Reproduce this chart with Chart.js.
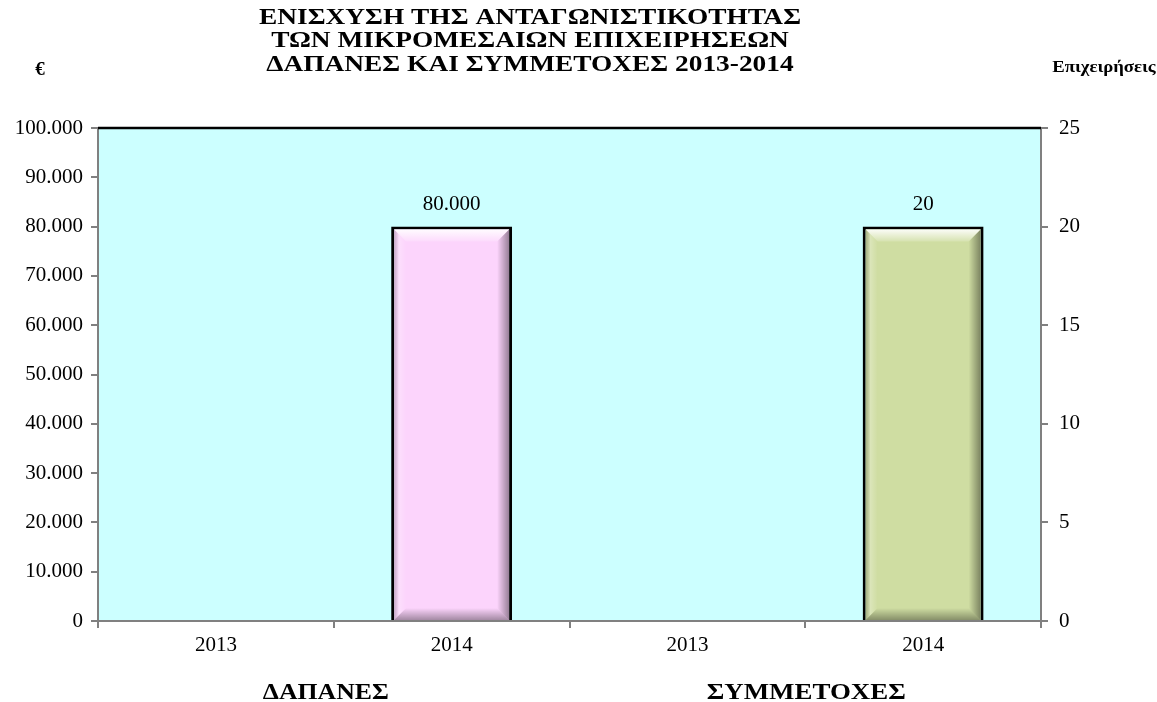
<!DOCTYPE html>
<html><head><meta charset="utf-8">
<script src="https://cdn.jsdelivr.net/npm/chart.js@4/dist/chart.umd.min.js"></script>
<style>html,body{margin:0;padding:0;background:#fff;}#wrap{width:1157px;height:702px;}</style>
</head><body><div id="wrap"><canvas id="c" width="1157" height="702"></canvas></div>
<script>
const categories = ['2013', '2014', '2013', '2014'];
const groups = ['ΔΑΠΑΝΕΣ', 'ΣΥΜΜΕΤΟΧΕΣ'];
const expenses = [null, 80000, null, null];
const participants = [null, null, null, 20];
const titleLines = ['ΕΝΙΣΧΥΣΗ ΤΗΣ ΑΝΤΑΓΩΝΙΣΤΙΚΟΤΗΤΑΣ', 'ΤΩΝ ΜΙΚΡΟΜΕΣΑΙΩΝ ΕΠΙΧΕΙΡΗΣΕΩΝ', 'ΔΑΠΑΝΕΣ ΚΑΙ ΣΥΜΜΕΤΟΧΕΣ 2013-2014'];
const leftUnit = '€';
const rightUnit = 'Επιχειρήσεις';

const SERIF = '"Liberation Serif", "DejaVu Serif", serif';
const fmt = v => Number(v).toLocaleString('de-DE');

function stretchText(ctx, s, x, y, sx) {
  ctx.save();
  ctx.translate(x, y);
  ctx.scale(sx, 1);
  ctx.fillText(s, 0, 0);
  ctx.restore();
}

const framePlugin = {
  id: 'frame',
  beforeDatasetsDraw(chart) {
    const {ctx, chartArea: a} = chart;
    ctx.save();
    ctx.fillStyle = '#CCFFFF';
    ctx.fillRect(a.left, a.top, a.right - a.left, a.bottom - a.top);
    ctx.restore();
  },
  afterDatasetsDraw(chart) {
    const {ctx, chartArea: a} = chart;
    chart.data.datasets.forEach((ds, di) => {
      chart.getDatasetMeta(di).data.forEach((bar, i) => {
        if (ds.data[i] == null) return;
        const p = bar.getProps(['x', 'y', 'base', 'width'], true);
        const bw = 3;
        const l = p.x - p.width / 2 + bw, r = p.x + p.width / 2 - bw;
        const t = p.y + bw, b = p.base;
        const d = 12;
        ctx.save();
        let g = ctx.createLinearGradient(0, t, 0, t + d);
        g.addColorStop(0, 'rgba(255,255,255,0.9)');
        g.addColorStop(1, 'rgba(255,255,255,0.15)');
        ctx.fillStyle = g;
        ctx.beginPath(); ctx.moveTo(l, t); ctx.lineTo(r, t); ctx.lineTo(r - d, t + d); ctx.lineTo(l + d, t + d); ctx.closePath(); ctx.fill();
        g = ctx.createLinearGradient(l, 0, l + d, 0);
        g.addColorStop(0, 'rgba(0,0,0,0.2)');
        g.addColorStop(0.4, 'rgba(255,255,255,0.25)');
        g.addColorStop(1, 'rgba(255,255,255,0.0)');
        ctx.fillStyle = g;
        ctx.beginPath(); ctx.moveTo(l, t); ctx.lineTo(l + d, t + d); ctx.lineTo(l + d, b - d); ctx.lineTo(l, b); ctx.closePath(); ctx.fill();
        g = ctx.createLinearGradient(r - d, 0, r, 0);
        g.addColorStop(0, 'rgba(0,0,0,0.0)');
        g.addColorStop(1, 'rgba(0,0,0,0.4)');
        ctx.fillStyle = g;
        ctx.beginPath(); ctx.moveTo(r, t); ctx.lineTo(r, b); ctx.lineTo(r - d, b - d); ctx.lineTo(r - d, t + d); ctx.closePath(); ctx.fill();
        g = ctx.createLinearGradient(0, b - d, 0, b);
        g.addColorStop(0, 'rgba(0,0,0,0.0)');
        g.addColorStop(1, 'rgba(0,0,0,0.35)');
        ctx.fillStyle = g;
        ctx.beginPath(); ctx.moveTo(l, b); ctx.lineTo(r, b); ctx.lineTo(r - d, b - d); ctx.lineTo(l + d, b - d); ctx.closePath(); ctx.fill();
        ctx.restore();
        ctx.save();
        ctx.fillStyle = '#000';
        ctx.font = '21px ' + SERIF;
        ctx.textAlign = 'center';
        ctx.textBaseline = 'middle';
        ctx.fillText(fmt(ds.data[i]), p.x, p.y - 22);
        ctx.restore();
      });
    });
    ctx.save();
    ctx.strokeStyle = '#808080';
    ctx.lineWidth = 2;
    ctx.beginPath();
    ctx.moveTo(a.left, a.top); ctx.lineTo(a.left, a.bottom); ctx.lineTo(a.right, a.bottom); ctx.lineTo(a.right, a.top);
    ctx.stroke();
    ctx.strokeStyle = '#000';
    ctx.lineWidth = 2.5;
    ctx.beginPath(); ctx.moveTo(a.left, a.top); ctx.lineTo(a.right, a.top); ctx.stroke();
    ctx.restore();
  },
  afterDraw(chart) {
    const {ctx, scales} = chart;
    ctx.save();
    ctx.fillStyle = '#000';
    ctx.textAlign = 'center';
    ctx.textBaseline = 'middle';
    ctx.font = 'bold 23px ' + SERIF;
    titleLines.forEach((s, i) => stretchText(ctx, s, 530, 18 + i * 23.5, 1.19));
    ctx.font = 'bold 19px ' + SERIF;
    ctx.fillText(leftUnit, 40, 70);
    ctx.font = 'bold 17px ' + SERIF;
    stretchText(ctx, rightUnit, 1104, 68, 1.1);
    ctx.font = 'bold 23px ' + SERIF;
    const x = scales.x;
    const shift = [-8, 1];
    groups.forEach((g, gi) => {
      const c = (x.getPixelForValue(gi * 2) + x.getPixelForValue(gi * 2 + 1)) / 2;
      stretchText(ctx, g, c + shift[gi], 693, gi === 0 ? 1.12 : 1.17);
    });
    ctx.restore();
  }
};

new Chart(document.getElementById('c'), {
  type: 'bar',
  data: {
    labels: categories,
    datasets: [
      { label: 'Δαπάνες', data: expenses, yAxisID: 'y', backgroundColor: '#FCD4FC', borderColor: '#000', borderWidth: 3, borderSkipped: 'bottom' },
      { label: 'Συμμετοχές', data: participants, yAxisID: 'y1', backgroundColor: '#CFDDA2', borderColor: '#000', borderWidth: 3, borderSkipped: 'bottom' }
    ]
  },
  options: {
    responsive: false,
    animation: false,
    devicePixelRatio: 1,
    layout: { padding: { top: 128, left: 0, right: 0, bottom: 0 } },
    datasets: { bar: { grouped: false, categoryPercentage: 1, barPercentage: 0.513 } },
    plugins: { legend: { display: false }, tooltip: { enabled: false }, title: { display: false } },
    scales: {
      x: {
        offset: true,
        grid: { offset: true, drawOnChartArea: false, drawTicks: true, tickLength: 7, color: '#808080', lineWidth: 2 },
        border: { display: false },
        ticks: { color: '#000', font: { family: SERIF, size: 21 }, padding: 5 },
        afterFit(s) { s.height = 81; }
      },
      y: {
        position: 'left', min: 0, max: 100000,
        grid: { drawOnChartArea: false, tickLength: 7, color: '#808080', lineWidth: 2 },
        border: { display: false },
        ticks: { stepSize: 10000, color: '#000', font: { family: SERIF, size: 21 }, padding: 8, callback: v => fmt(v) },
        afterFit(s) { s.width = 98; }
      },
      y1: {
        position: 'right', min: 0, max: 25,
        grid: { drawOnChartArea: false, tickLength: 7, color: '#808080', lineWidth: 2 },
        border: { display: false },
        ticks: { stepSize: 5, color: '#000', font: { family: SERIF, size: 21 }, padding: 11 },
        afterFit(s) { s.width = 116; }
      }
    }
  },
  plugins: [framePlugin]
});
</script></body></html>
